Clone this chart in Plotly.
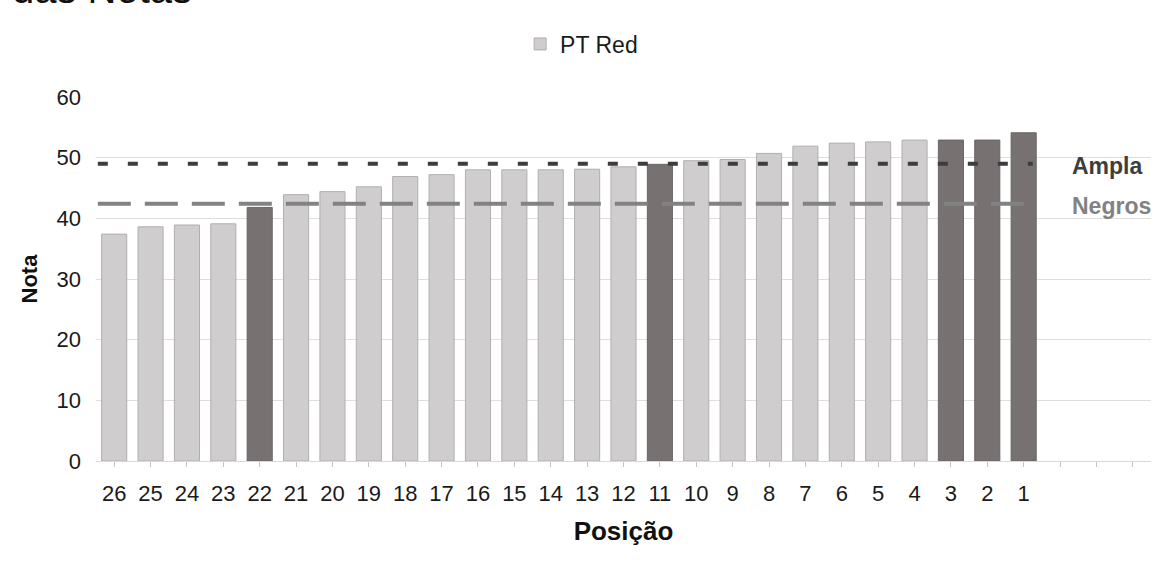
import plotly.graph_objects as go

# ---- data ----
posicoes = ["26", "25", "24", "23", "22", "21", "20", "19", "18", "17", "16", "15", "14",
            "13", "12", "11", "10", "9", "8", "7", "6", "5", "4", "3", "2", "1"]
notas = [37.4, 38.6, 38.9, 39.1, 41.8, 43.9, 44.4, 45.2, 46.9, 47.2, 48.0, 48.0, 48.0,
         48.1, 48.5, 48.9, 49.5, 49.7, 50.7, 51.9, 52.4, 52.6, 52.9, 52.9, 52.9, 54.1]
destaque = [False, False, False, False, True, False, False, False, False, False, False, False, False,
            False, False, True, False, False, False, False, False, False, False, True, True, True]
categorias_vazias = [" ", "  ", "   "]
serie_nome = "PT Red"
corte_ampla = 49.0
corte_negros = 42.4
y_ticks = [0, 10, 20, 30, 40, 50, 60]

# ---- style ----
FONT = "Liberation Sans, Arial, Helvetica, sans-serif"
LIGHT = "#d0cdce"
LIGHT_LINE = "#b2aeaf"
DARK = "#787172"
DARK_LINE = "#6a6465"
AMPLA_COLOR = "#3d3d3d"
NEGROS_COLOR = "#828282"

cores = [DARK if d else LIGHT for d in destaque]
bordas = [DARK_LINE if d else LIGHT_LINE for d in destaque]

fig = go.Figure()
fig.add_trace(go.Bar(
    x=posicoes, y=notas, name=serie_nome,
    marker=dict(color=cores, line=dict(color=bordas, width=1)),
    showlegend=True,
))

all_cats = posicoes + categorias_vazias
n_last = len(posicoes) - 1

fig.add_shape(type="line", xref="x", yref="y", x0=-0.45, x1=n_last + 0.25,
              y0=corte_ampla, y1=corte_ampla,
              line=dict(color=AMPLA_COLOR, width=4, dash="10px,20px"))
fig.add_shape(type="line", xref="x", yref="y", x0=-0.45, x1=n_last + 0.25,
              y0=corte_negros, y1=corte_negros,
              line=dict(color=NEGROS_COLOR, width=4, dash="33px,14px"))

fig.add_annotation(xref="paper", yref="y", x=0.923, y=corte_ampla, xanchor="left", yanchor="middle",
                   text="<b>Ampla</b>", showarrow=False, yshift=-2,
                   font=dict(family=FONT, size=23, color=AMPLA_COLOR))
fig.add_annotation(xref="paper", yref="y", x=0.923, y=corte_negros, xanchor="left", yanchor="middle",
                   text="<b>Negros</b>", showarrow=False, yshift=-2,
                   font=dict(family=FONT, size=23, color=NEGROS_COLOR))

# cropped title at the very top (as in the reference)
fig.add_annotation(xref="paper", yref="paper", x=-0.0815, y=1.2321, xanchor="left", yanchor="bottom",
                   text="das Notas", showarrow=False,
                   font=dict(family=FONT, size=40, color="#111111"))

fig.update_layout(
    width=1164, height=570,
    margin=dict(l=96, r=13, t=97, b=109),
    paper_bgcolor="white", plot_bgcolor="white",
    font=dict(family=FONT, size=22, color="#1a1a1a"),
    bargap=0.31,
    showlegend=True,
    legend=dict(orientation="h", x=0.402, xanchor="left", y=1.1456, yanchor="middle",
                font=dict(family=FONT, size=23, color="#1a1a1a"), itemwidth=30),
    xaxis=dict(
        type="category", categoryorder="array", categoryarray=all_cats,
        range=[-0.5, len(all_cats) - 0.5],
        showline=True, linecolor="#d9d9d9", linewidth=1,
        ticks="outside", ticklen=5, tickcolor="#c4c4c4",
        showgrid=False,
        tickfont=dict(family=FONT, size=22, color="#1a1a1a"),
        ticklabelstandoff=8,
        title=dict(text="<b>Posição</b>", font=dict(family=FONT, size=26, color="#111111"), standoff=16),
    ),
    yaxis=dict(
        range=[0, 60], tickvals=y_ticks,
        showgrid=True, gridcolor="#dedede", gridwidth=1,
        zeroline=False, showline=False, ticks="",
        tickfont=dict(family=FONT, size=22, color="#1a1a1a"),
        ticklabelstandoff=14,
        title=dict(text="<b>Nota</b>", font=dict(family=FONT, size=22, color="#111111"), standoff=12),
    ),
)

fig.write_html("out.html", config={"displayModeBar": False},
               post_script="document.body.style.margin='0';")
